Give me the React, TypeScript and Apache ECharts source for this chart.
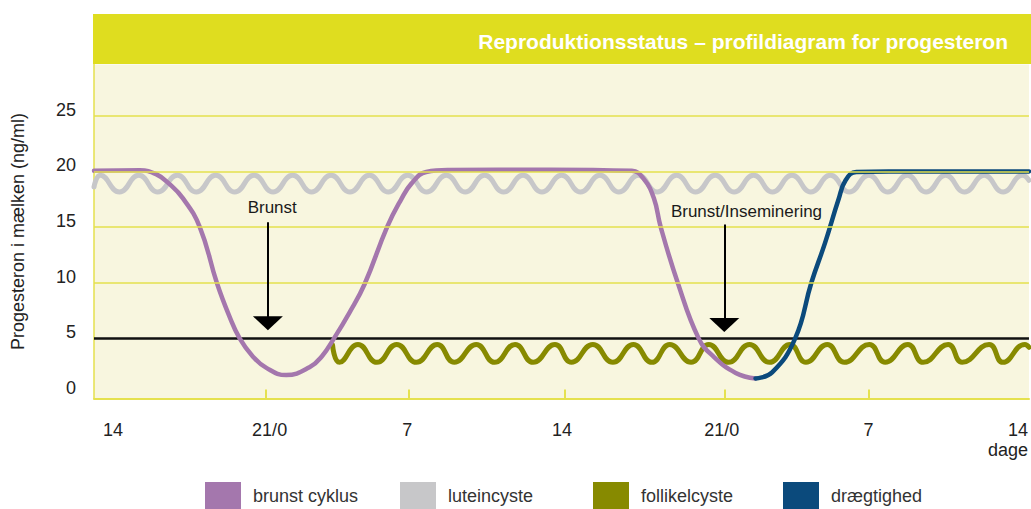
import React, { useEffect, useRef } from 'react';
import * as echarts from 'echarts';

const FONT = '"Liberation Sans", Arial, Helvetica, sans-serif';

const TITLE = 'Reproduktionsstatus – profildiagram for progesteron';
const Y_NAME = 'Progesteron i mælken (ng/ml)';
const X_UNIT = 'dage';

// x axis in days
const xMin = -0.88;
const xMax = 42.51;
const xLabelDays = [0, 7.27, 13.66, 20.84, 28.25, 35.06, 42.0];
const xLabels = ['14', '21/0', '7', '14', '21/0', '7', '14'];
const xTickDays = [7.07, 13.71, 20.98, 28.37, 35.08];

// y axis
const yMin = -0.4;
const yMax = 29.6;
const yLabelValues = [0, 5, 10, 15, 20, 25];
const gridValues = [10, 15, 20, 25];
const thresholdValue = 5;

const seriesNames = ['brunst cyklus', 'luteincyste', 'follikelcyste', 'drægtighed'];

const brunstCyklus: [number, number][] = [
  [-0.88, 20.05], [1.25, 20.1], [2.0, 19.75], [2.6, 18.9], [3.24, 17.6], [4.03, 15.0],
  [4.82, 10.0], [5.4, 7.0], [5.88, 5.0], [6.48, 3.4], [7.12, 2.35], [8.04, 1.7],
  [9.12, 2.4], [9.7, 3.4], [10.28, 5.07], [10.97, 7.3], [11.67, 9.84], [12.73, 15.04],
  [13.37, 17.47], [13.85, 18.9], [14.54, 19.95], [15.61, 20.12], [20.24, 20.15], [24.08, 20.05],
  [24.64, 19.3], [25.1, 17.6], [25.42, 15.0], [26.21, 10.0], [27.18, 5.0], [27.85, 3.4],
  [28.9, 1.9], [29.82, 1.4],
];

const draegtighed: [number, number][] = [
  [29.82, 1.4], [30.59, 1.95], [31.66, 5.0], [32.41, 10.0], [33.05, 13.6], [33.67, 17.47],
  [34.0, 19.2], [34.5, 19.95], [36.0, 20.0], [42.51, 20.0],
];

const luteincyste: [number, number][] = [
  [-0.88, 18.6], [-0.58, 19.65], [0.3, 18.15], [1.2, 19.65], [2.08, 18.15], [2.99, 19.65],
  [3.87, 18.15], [4.77, 19.65], [5.65, 18.15], [6.55, 19.65], [7.43, 18.15], [8.34, 19.65],
  [9.22, 18.15], [10.12, 19.65], [11.0, 18.15], [11.9, 19.65], [12.78, 18.15], [13.68, 19.65],
  [14.56, 18.15], [15.47, 19.65], [16.35, 18.15], [17.25, 19.65], [18.13, 18.15], [19.03, 19.65],
  [19.91, 18.15], [20.82, 19.65], [21.7, 18.15], [22.6, 19.65], [23.48, 18.15], [24.38, 19.65],
  [25.26, 18.15], [26.16, 19.65], [27.04, 18.15], [27.95, 19.65], [28.83, 18.15], [29.73, 19.65],
  [30.61, 18.15], [31.51, 19.65], [32.39, 18.15], [33.29, 19.65], [34.17, 18.15], [35.08, 19.65],
  [35.96, 18.15], [36.86, 19.65], [37.74, 18.15], [38.64, 19.65], [39.52, 18.15], [40.43, 19.65],
  [41.31, 18.15], [42.21, 19.65], [42.51, 19.2],
];

const follikelcyste: [number, number][] = [
  [10.19, 4.4], [10.51, 2.85], [11.37, 4.45], [12.25, 2.85], [13.17, 4.45], [14.08, 2.85],
  [15.05, 4.45], [15.84, 2.85], [16.86, 4.45], [17.71, 2.85], [18.66, 4.45], [19.5, 2.85],
  [20.51, 4.45], [21.28, 2.85], [22.27, 4.45], [23.2, 2.85], [24.15, 4.45], [25.01, 2.85],
  [25.84, 4.45], [26.83, 2.85], [27.65, 4.45], [28.57, 2.85], [29.54, 4.45], [30.47, 2.85],
  [31.42, 4.45], [32.16, 2.85], [33.15, 4.45], [33.94, 2.85], [35.1, 4.45], [35.84, 2.85],
  [36.89, 4.45], [37.6, 2.85], [38.76, 4.45], [39.41, 2.85], [40.66, 4.45], [41.3, 2.85],
  [42.32, 4.45], [42.51, 4.2],
];

const arrowLabels = ['Brunst', 'Brunst/Inseminering'];
const arrowDays = [7.19, 28.37];
const arrowFrom = [15.43, 15.22];
const arrowTo = [6.36, 6.21];
const arrowTextDays = [7.39, 29.4];
const arrowTextValues = [16.75, 16.44];

const COLORS = {
  header: '#DFDD1F',
  plotBg: '#F8F6DF',
  grid: '#E5E14E',
  purple: '#A477AD',
  grey: '#C7C7C9',
  olive: '#878A00',
  blue: '#0B4A7C',
  text: '#222222',
};
const SERIES_COLORS = [COLORS.purple, COLORS.grey, COLORS.olive, COLORS.blue];
const LEGEND_LEFT = [205, 400, 593, 783];

export default function App() {
  const ref = useRef<HTMLDivElement>(null);

  useEffect(() => {
    if (!ref.current) return;
    const chart = echarts.init(ref.current, undefined, { renderer: 'svg' });

    const nearestLabel = (v: number) => {
      let best = 0;
      let bd = Infinity;
      xLabelDays.forEach((d, i) => {
        const dd = Math.abs(d - v);
        if (dd < bd) { bd = dd; best = i; }
      });
      return bd < 0.05 ? xLabels[best] : '';
    };

    const curve = (name: string, data: [number, number][], color: string, width: number, z: number, smooth: number) => ({
      name,
      type: 'line',
      data,
      smooth,
      symbol: 'none',
      showSymbol: false,
      color,
      lineStyle: { color, width, cap: 'round', join: 'round' },
      z,
      silent: true,
    });

    const option: any = {
      animation: false,
      textStyle: { fontFamily: FONT, color: COLORS.text },
      color: SERIES_COLORS,
      title: {
        text: TITLE,
        right: 18,
        top: 26,
        z: 10,
        textStyle: { color: '#ffffff', fontSize: 21, fontWeight: 'bold', fontFamily: FONT },
      },
      graphic: [
        {
          type: 'rect',
          shape: { x: 93, y: 14, width: 938, height: 50 },
          style: { fill: COLORS.header },
          z: 1,
        },
        {
          type: 'text',
          x: 1028,
          y: 450,
          style: {
            text: X_UNIT,
            fill: COLORS.text,
            font: `18px ${FONT}`,
            textAlign: 'right',
            textVerticalAlign: 'middle',
          },
        },
      ],
      legend: seriesNames.map((n, i) => ({
        data: [n],
        left: LEGEND_LEFT[i],
        top: 482,
        padding: 0,
        icon: 'rect',
        itemWidth: 36,
        itemHeight: 27,
        itemGap: 0,
        selectedMode: false,
        textStyle: { fontSize: 18, color: '#333', padding: [0, 0, 0, 7], fontFamily: FONT },
      })),
      grid: {
        left: 94,
        right: 0,
        top: 64.5,
        bottom: 110.5,
        show: true,
        backgroundColor: COLORS.plotBg,
        borderWidth: 0,
      },
      xAxis: {
        type: 'value',
        min: xMin,
        max: xMax,
        axisLine: { show: true, onZero: false, lineStyle: { color: COLORS.grid, width: 2 } },
        axisTick: {
          show: true,
          inside: true,
          length: 9,
          customValues: xTickDays,
          lineStyle: { color: COLORS.grid, width: 2 },
        },
        axisLabel: {
          customValues: xLabelDays,
          formatter: (v: number) => nearestLabel(v),
          fontSize: 18,
          color: COLORS.text,
          margin: 22,
          fontFamily: FONT,
        },
        splitLine: { show: false },
      },
      yAxis: {
        type: 'value',
        min: yMin,
        max: yMax,
        name: Y_NAME,
        nameLocation: 'middle',
        nameGap: 67,
        nameTextStyle: { fontSize: 18, color: COLORS.text, fontFamily: FONT },
        axisLine: { show: true, onZero: false, lineStyle: { color: COLORS.grid, width: 1.5 } },
        axisTick: { show: false },
        splitLine: { show: false },
        axisLabel: {
          customValues: yLabelValues,
          formatter: (v: number) => (Math.abs(v % 5) < 1e-6 ? String(v) : ''),
          fontSize: 18,
          color: COLORS.text,
          margin: 18,
          verticalAlign: 'bottom',
          lineHeight: 12,
          fontFamily: FONT,
        },
      },
      series: [
        {
          name: 'threshold',
          type: 'line',
          data: [[xMin, thresholdValue], [xMax, thresholdValue]],
          symbol: 'none',
          lineStyle: { color: '#111', width: 2.5 },
          z: 2,
          silent: true,
          markLine: {
            silent: true,
            symbol: 'none',
            label: { show: false },
            data: [
              ...gridValues.map((v) => ({
                yAxis: v,
                lineStyle: { color: COLORS.grid, width: 1.5, type: 'solid' },
              })),
              ...arrowDays.map((d, i) => [
                {
                  coord: [d, arrowFrom[i]],
                  symbol: 'none',
                  lineStyle: { color: '#000', width: 2, type: 'solid' },
                },
                {
                  coord: [d, arrowTo[i]],
                  symbol: 'triangle',
                  symbolSize: [30, 14],
                  itemStyle: { color: '#000' },
                },
              ]),
            ],
          },
          markPoint: {
            silent: true,
            symbol: 'rect',
            symbolSize: 1,
            itemStyle: { color: 'rgba(0,0,0,0)' },
            label: {
              show: true,
              position: 'inside',
              color: '#1a1a1a',
              fontSize: 17,
              fontFamily: FONT,
              formatter: (p: any) => p.name,
            },
            data: arrowLabels.map((l, i) => ({ name: l, coord: [arrowTextDays[i], arrowTextValues[i]] })),
          },
        },
        curve(seriesNames[1], luteincyste, COLORS.grey, 5, 3, 0.5),
        curve(seriesNames[2], follikelcyste, COLORS.olive, 5, 3, 0.5),
        curve(seriesNames[0], brunstCyklus, COLORS.purple, 4.5, 4, 0.45),
        curve(seriesNames[3], draegtighed, COLORS.blue, 4.5, 4, 0.45),
      ],
    };

    chart.setOption(option);
    return () => chart.dispose();
  }, []);

  return (
    <div
      ref={ref}
      style={{ position: 'fixed', left: 0, top: 0, width: 1031, height: 509, background: '#fff' }}
    />
  );
}
